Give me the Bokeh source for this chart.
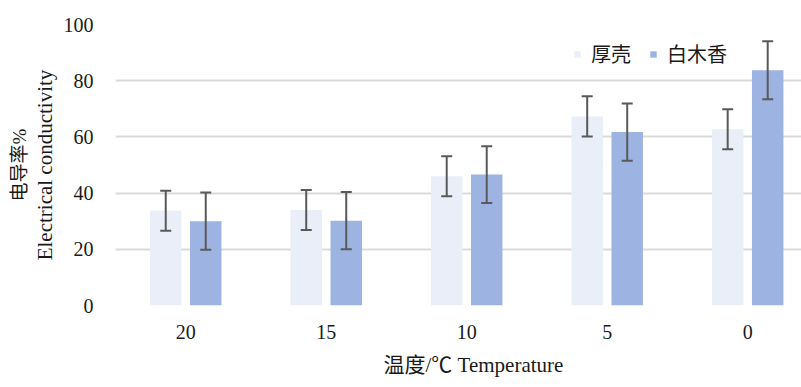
import numpy as np
from bokeh.plotting import figure
from bokeh.models import (ColumnDataSource, Whisker, TeeHead, FixedTicker, Legend, LegendItem,
                          Range1d, LinearAxis, Title)
from bokeh.embed import file_html
from bokeh.resources import INLINE

categories = ["20", "15", "10", "5", "0"]
series_names = ["厚壳", "白木香"]
houke = [33.7, 34.0, 46.0, 67.3, 62.7]
houke_err = [7.1, 7.1, 7.1, 7.2, 7.1]
baimuxiang = [30.0, 30.2, 46.6, 61.7, 83.7]
baimuxiang_err = [10.2, 10.2, 10.1, 10.2, 10.3]
y_ticks = [0, 20, 40, 60, 80, 100]

idx = np.arange(len(categories))
off = 0.1424
bw = 0.224

serif = "'Liberation Serif', 'Noto Sans CJK SC'"
txt = "#1a1a1a"

p = figure(width=801, height=387, output_backend="svg", toolbar_location=None,
           x_range=Range1d(-0.5, 4.383), y_range=Range1d(0, 100),
           min_border_left=115, min_border_right=0, min_border_top=24, min_border_bottom=82)
p.outline_line_color = None
p.background_fill_color = "white"
p.border_fill_color = "white"

s1 = ColumnDataSource(dict(x=idx - off, top=houke, lo=np.array(houke) - np.array(houke_err),
                           hi=np.array(houke) + np.array(houke_err)))
s2 = ColumnDataSource(dict(x=idx + off, top=baimuxiang, lo=np.array(baimuxiang) - np.array(baimuxiang_err),
                           hi=np.array(baimuxiang) + np.array(baimuxiang_err)))

r1 = p.vbar(x="x", top="top", width=bw, source=s1, fill_color="#e9eef8", line_color=None)
r2 = p.vbar(x="x", top="top", width=bw, source=s2, fill_color="#9db3e2", line_color=None)

for s in (s1, s2):
    w = Whisker(base="x", lower="lo", upper="hi", source=s, line_color="#595959", line_width=2,
                level="overlay",
                upper_head=TeeHead(size=11, line_color="#595959", line_width=2),
                lower_head=TeeHead(size=11, line_color="#595959", line_width=2))
    p.add_layout(w)

# second left axis carrying only the Chinese title line
cn_axis = LinearAxis(ticker=FixedTicker(ticks=[]), axis_label="电导率%")
p.add_layout(cn_axis, "left")

p.xaxis.ticker = FixedTicker(ticks=list(idx))
p.xaxis.major_label_overrides = {int(i): c for i, c in zip(idx, categories)}
p.yaxis[0].ticker = FixedTicker(ticks=y_ticks)
for ax in list(p.xaxis) + list(p.yaxis):
    ax.axis_line_color = None
    ax.major_tick_line_color = None
    ax.minor_tick_line_color = None
    ax.major_tick_out = 0
    ax.major_tick_in = 0
    ax.minor_tick_out = 0
    ax.minor_tick_in = 0
    ax.major_label_text_font = serif
    ax.major_label_text_font_size = "20px"
    ax.major_label_text_color = txt
    ax.axis_label_text_font = serif
    ax.axis_label_text_font_size = "21px"
    ax.axis_label_text_font_style = "normal"
    ax.axis_label_text_color = txt
p.xaxis.major_label_standoff = 19
p.yaxis[0].major_label_standoff = 22
p.yaxis[0].axis_label = "Electrical conductivity"
p.yaxis[0].axis_label_standoff = 4
cn_axis.major_label_standoff = 0
cn_axis.axis_label_standoff = 0
cn_axis.axis_label_text_font_size = "19px"

xlabel = Title(text="温度/℃ Temperature", align="left", offset=268, standoff=18,
               text_font=serif, text_font_size="21px", text_font_style="normal", text_color=txt)
p.add_layout(xlabel, "below")

p.xgrid.grid_line_color = None
p.ygrid.grid_line_color = "#d9d9d9"
p.ygrid.grid_line_width = 2

legend = Legend(items=[LegendItem(label=series_names[0], renderers=[r1]),
                       LegendItem(label=series_names[1], renderers=[r2])],
                orientation="horizontal", location=(458, 237),
                glyph_width=8, glyph_height=8, padding=0, margin=0, spacing=18,
                label_standoff=10, label_text_font=serif, label_text_font_size="20px",
                label_text_color=txt, border_line_color=None, background_fill_alpha=0)
p.add_layout(legend)

open("out.html", "w").write(file_html(p, INLINE))
